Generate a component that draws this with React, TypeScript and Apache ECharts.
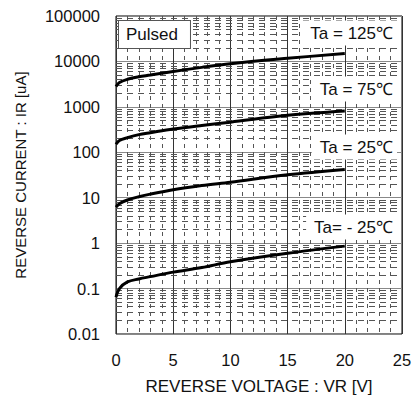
import React, { useEffect, useRef } from "react";
import * as echarts from "echarts";

const voltages = [0, 0.3, 1, 2, 3, 5, 7.5, 10, 15, 20];
const ir125 = [2800, 3450, 4050, 4600, 5000, 6000, 7400, 8900, 11700, 15000];
const ir75 = [150, 182, 210, 245, 270, 325, 390, 460, 650, 810];
const ir25 = [6.2, 7.4, 8.9, 10.5, 12, 15, 18.5, 22, 32, 42];
const irM25 = [0.065, 0.1, 0.14, 0.163, 0.183, 0.23, 0.29, 0.39, 0.6, 0.86];

const yTickLabels = ["0.01", "0.1", "1", "10", "100", "1000", "10000", "100000"];
const xTickLabels = ["0", "5", "10", "15", "20", "25"];

const tempLabels = ["Ta = 125℃", "Ta = 75℃", "Ta = 25℃", "Ta= - 25℃"];
const FONT = "'Liberation Sans', Arial, sans-serif";

export default function App() {
  const ref = useRef<HTMLDivElement>(null);
  useEffect(() => {
    if (!ref.current) return;
    document.body.style.margin = "0";
    const chart = echarts.init(ref.current, null, { renderer: "svg" });

    const minorY: number[] = [];
    for (let e = -2; e <= 4; e++) {
      for (let m = 2; m <= 9; m++) minorY.push(m * Math.pow(10, e));
    }

    const mk = (vals: number[]) => voltages.map((v, i) => [v, vals[i]]);
    const curve = (name: string, vals: number[]) => ({
      name,
      type: "line",
      data: mk(vals),
      smooth: 0.35,
      symbol: "none",
      z: 5,
      lineStyle: { color: "#000", width: 3 },
    });

    const labelY = [33, 89, 147, 227];

    chart.setOption({
      animation: false,
      grid: {
        left: 116,
        right: 11,
        top: 16,
        bottom: 69,
        show: true,
        borderColor: "#000",
        borderWidth: 1,
        outerBoundsMode: "none",
      },
      xAxis: {
        type: "value",
        min: 0,
        max: 25,
        interval: 5,
        name: "REVERSE VOLTAGE : VR [V]",
        nameLocation: "middle",
        nameGap: 44,
        nameTextStyle: { fontSize: 17, color: "#111", fontFamily: FONT },
        axisLine: { show: false },
        axisTick: { show: false },
        axisLabel: {
          margin: 17,
          fontSize: 16.5,
          color: "#111",
          fontFamily: FONT,
          formatter: (v: number) => xTickLabels[Math.round(v / 5)] ?? "",
        },
        splitLine: { show: true, lineStyle: { color: "#333", width: 1 } },
        minorTick: { show: false, splitNumber: 5 },
        minorSplitLine: {
          show: true,
          lineStyle: { color: "#555", width: 1, type: [4, 4] },
        },
      },
      yAxis: {
        type: "log",
        logBase: 10,
        min: 0.01,
        max: 100000,
        interval: 1,
        name: "REVERSE CURRENT : IR [uA]",
        nameLocation: "middle",
        nameGap: 88,
        nameTextStyle: { fontSize: 15, color: "#111", fontFamily: FONT },
        axisLine: { show: false },
        axisTick: { show: false },
        axisLabel: {
          margin: 16,
          fontSize: 16.5,
          color: "#111",
          fontFamily: FONT,
          formatter: (v: number) =>
            yTickLabels[Math.round(Math.log10(v)) + 2] ?? "",
        },
        splitLine: { show: true, lineStyle: { color: "#888", width: 1 } },
      },
      series: [
        {
          name: "minor",
          type: "line",
          data: [],
          z: 1,
          markLine: {
            silent: true,
            symbol: "none",
            label: { show: false },
            lineStyle: { color: "#555", width: 1, type: [6, 5] },
            data: minorY.map((v) => ({ yAxis: v })),
          },
        },
        curve("125", ir125),
        curve("75", ir75),
        curve("25", ir25),
        curve("-25", irM25),
      ],
      graphic: [
        {
          type: "text",
          left: 118,
          top: 20,
          z: 10,
          style: {
            text: "Pulsed",
            font: `17px ${FONT}`,
            fill: "#111",
            backgroundColor: "#fff",
            borderColor: "#555",
            borderWidth: 1,
            padding: [5, 12, 5, 7],
          },
        },
        ...tempLabels.map((t, i) => ({
          type: "text",
          right: 16,
          top: labelY[i] - 12.5,
          z: 10,
          style: {
            text: t,
            font: `17px ${FONT}`,
            fill: "#111",
            backgroundColor: "#fff",
            padding: [4, 4, 4, 8],
          },
        })),
      ],
    });
    return () => chart.dispose();
  }, []);
  return <div ref={ref} style={{ width: 413, height: 403 }} />;
}
